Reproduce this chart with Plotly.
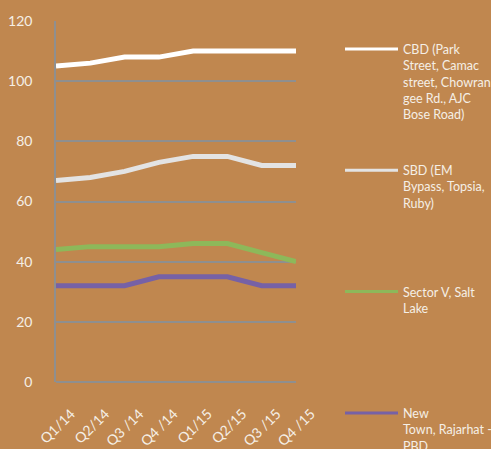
import plotly.graph_objects as go

quarters = ["Q1/14", "Q2/14", "Q3 /14", "Q4 /14", "Q1/15", "Q2/15", "Q3 /15", "Q4 /15"]
cbd = [105, 106, 108, 108, 110, 110, 110, 110]
sbd = [67, 68, 70, 73, 75, 75, 72, 72]
sector_v = [44, 45, 45, 45, 46, 46, 43, 40]
new_town = [32, 32, 32, 35, 35, 35, 32, 32]

names = [
    "CBD (Park<br>Street, Camac<br>street, Chowran<br>gee Rd., AJC<br>Bose Road)",
    "SBD (EM<br>Bypass, Topsia,<br>Ruby)",
    "Sector V, Salt<br>Lake",
    "New<br>Town, Rajarhat -<br>PBD",
]
series = [cbd, sbd, sector_v, new_town]
colors = ["#ffffff", "#e3e3e3", "#8db85a", "#7661a6"]
y_ticks = [0, 20, 40, 60, 80, 100, 120]

W, H = 491, 449
ML, MR, MT, MB = 56, 195, 21, 67
BG = "#c0874f"
TXT = "#f5efe6"
FONT = "Lato"

fig = go.Figure()
for vals, nm, c in zip(series, names, colors):
    fig.add_trace(go.Scatter(x=quarters, y=vals, mode="lines", name=nm,
                             line=dict(color=c, width=5), showlegend=False))

# manual legend (entries evenly spaced like the original)
pw = W - ML - MR
ph = H - MT - MB
def px_x(p):
    return (p - ML) / pw
def px_y(p):
    return (H - MB - p) / ph

legend_top = 49
legend_step = 121.3
for i, (nm, c) in enumerate(zip(names, colors)):
    yy = legend_top + i * legend_step
    fig.add_shape(type="line", xref="paper", yref="paper",
                  x0=px_x(345), x1=px_x(398), y0=px_y(yy), y1=px_y(yy),
                  line=dict(color=c, width=3))
    fig.add_annotation(xref="paper", yref="paper", x=px_x(401), y=px_y(yy - 9),
                       xanchor="left", yanchor="top", align="left", showarrow=False,
                       text=nm, font=dict(family=FONT, size=12.5, color=TXT))

fig.update_layout(
    width=W, height=H,
    margin=dict(l=ML, r=MR, t=MT, b=MB, autoexpand=False),
    paper_bgcolor=BG, plot_bgcolor=BG,
    font=dict(family=FONT, color=TXT),
)
fig.update_xaxes(showgrid=False, tickangle=-45, tickfont=dict(size=14, color=TXT),
                 showline=False, zeroline=False, ticks="", automargin=False,
                 ticklabelshift=15, ticklabelstandoff=20)
fig.update_yaxes(range=[0, 120], tickvals=y_ticks, showgrid=True, gridcolor="#8f8f8f",
                 gridwidth=1.5, zeroline=True, zerolinecolor="#8f8f8f", zerolinewidth=1.5,
                 showline=True, linecolor="#8f8f8f", linewidth=1.5, automargin=False,
                 tickfont=dict(size=14, color=TXT), ticks="", ticklabelstandoff=19)

fig.write_html("out.html", config={"displayModeBar": False},
               post_script="document.body.style.margin='0';document.body.style.overflow='hidden';")
